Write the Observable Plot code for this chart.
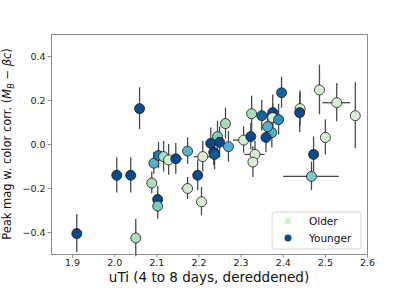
<!DOCTYPE html>
<html><head><meta charset="utf-8">
<script src="https://cdn.jsdelivr.net/npm/d3@7"></script>
<script src="https://cdn.jsdelivr.net/npm/@observablehq/plot@0.6"></script>
<style>
body{margin:0;background:#fff;}
#wrap{width:407px;height:291px;}
</style></head><body><div id="wrap"></div>
<script>
// uTi colour (x), peak magnitude with colour correction (y), their errors, and relative age (0 = older, 1 = younger)
const uTi    = [1.910,2.005,2.038,2.050,2.059,2.088,2.102,2.102,2.093,2.104,2.116,2.128,2.145,2.173,2.209,2.197,2.173,2.206,2.228,2.244,2.235,2.263,2.249,2.270,2.237,2.306,2.323,2.333,2.328,2.325,2.349,2.373,2.359,2.375,2.375,2.389,2.396,2.363,2.440,2.439,2.486,2.527,2.571,2.500,2.472,2.467];
const uTiErr = [0,0,0,0,0,0.010,0,0,0,0,0,0,0.017,0,0.020,0,0.014,0,0,0,0,0.012,0,0,0,0.024,0,0.024,0,0,0,0,0,0,0,0,0,0,0,0,0,0.033,0,0,0,0.066];
const mag    = [-0.405,-0.14,-0.14,-0.425,0.163,-0.175,-0.25,-0.28,-0.085,-0.05,-0.055,-0.07,-0.065,-0.03,-0.055,-0.14,-0.20,-0.26,0.005,0.036,-0.036,0.095,0.010,-0.010,-0.045,0.020,0.036,-0.045,-0.080,0.140,0.131,0.054,0.032,0.145,0.122,0.113,0.235,0.081,0.163,0.145,0.248,0.190,0.131,0.032,-0.045,-0.145];
const magErr = [0.087,0.08,0.08,0.085,0.095,0.05,0.06,0.06,0.05,0.06,0.07,0.07,0.07,0.06,0.07,0.07,0.05,0.065,0.07,0.07,0.06,0.07,0.07,0.07,0.07,0.06,0.06,0.06,0.07,0.08,0.07,0.07,0.07,0.08,0.06,0.07,0.07,0.06,0.08,0.09,0.113,0.087,0.15,0.08,0.08,0.065];
const age    = [0.97,0.97,0.97,0.36,0.95,0.36,0.97,0.5,0.62,0.8,0.37,0.18,0.97,0.62,0.18,0.97,0.22,0.18,0.97,0.5,0.97,0.37,0.97,0.62,0.92,0.18,0.97,0.18,0.18,0.37,0.88,0.62,0.97,0.97,0.18,0.75,0.88,0.62,0.18,0.97,0.18,0.18,0.18,0.18,0.97,0.5];
const xTicks = [1.9,2.0,2.1,2.2,2.3,2.4,2.5,2.6];
const yTicks = [-0.4,-0.2,0.0,0.2,0.4];
const legendLabels = ["Older","Younger"];
const legendAges = [0.18,0.97];

const rows = uTi.map((x,i)=>({x, y:mag[i], ex:uTiErr[i], ey:magErr[i], age:age[i]}));
const font = "DejaVu Sans";

const plot = Plot.plot({
  width:407, height:291,
  marginLeft:51, marginRight:40, marginTop:34, marginBottom:37,
  style:{fontFamily:font, fontSize:"9.5px", background:"#fff", color:"#222"},
  x:{domain:[1.85,2.6]},
  y:{domain:[-0.5,0.5]},
  color:{type:"linear", scheme:"GnBu", domain:[0,1]},
  marks:[
    Plot.ruleX(rows.filter(d=>d.ey>0), {x:"x", y1:d=>d.y-d.ey, y2:d=>d.y+d.ey, stroke:"#4a4a4a", strokeWidth:1.3}),
    Plot.ruleY(rows.filter(d=>d.ex>0), {y:"y", x1:d=>d.x-d.ex, x2:d=>d.x+d.ex, stroke:"#4a4a4a", strokeWidth:1.3}),
    Plot.dot(rows, {x:"x", y:"y", r:5, fill:"age", stroke:"#1a1a1a", strokeWidth:0.8}),
    Plot.frame({stroke:"#8c8c8c", strokeWidth:1}),
    Plot.axisX({ticks:xTicks, tickFormat:d3.format(".1f"), tickSize:3.5, tickPadding:1.5, stroke:"#8c8c8c", label:null}),
    Plot.axisY({ticks:yTicks, tickFormat:d3.format(".1f"), tickSize:3.5, tickPadding:2.5, stroke:"#8c8c8c", label:null})
  ]
});
document.getElementById("wrap").appendChild(plot);

const svg = d3.select(plot);
// x label
svg.append("text").attr("x",(51+367)/2).attr("y",281.5).attr("text-anchor","middle")
  .attr("font-family",font).attr("font-size",13.5).attr("fill","#111")
  .text("uTi (4 to 8 days, dereddened)");
// y label
const yl = svg.append("text").attr("transform","translate(11,144) rotate(-90)").attr("text-anchor","middle")
  .attr("font-family",font).attr("font-size",11.5).attr("fill","#111");
yl.append("tspan").text("Peak mag w. color corr. (");
yl.append("tspan").attr("font-style","italic").text("M");
yl.append("tspan").attr("font-size",8).attr("dy",2.5).attr("font-style","italic").text("B");
yl.append("tspan").attr("dy",-2.5).text(" − ");
yl.append("tspan").attr("font-style","italic").text("βc");
yl.append("tspan").text(")");
// legend
const lg = svg.append("g");
lg.append("rect").attr("x",272).attr("y",212).attr("width",89).attr("height",37).attr("rx",3)
  .attr("fill","#fff").attr("fill-opacity",0.85).attr("stroke","#d6d6d6");
legendLabels.forEach((lab,i)=>{
  const cy = 221 + i*17;
  lg.append("circle").attr("cx",288).attr("cy",cy).attr("r",3.5).attr("fill",d3.interpolateGnBu(legendAges[i]));
  lg.append("text").attr("x",309).attr("y",cy).attr("dy","0.35em").attr("text-anchor","start").attr("font-family",font)
    .attr("font-size",10.5).attr("fill","#111").text(lab);
});
</script></body></html>
